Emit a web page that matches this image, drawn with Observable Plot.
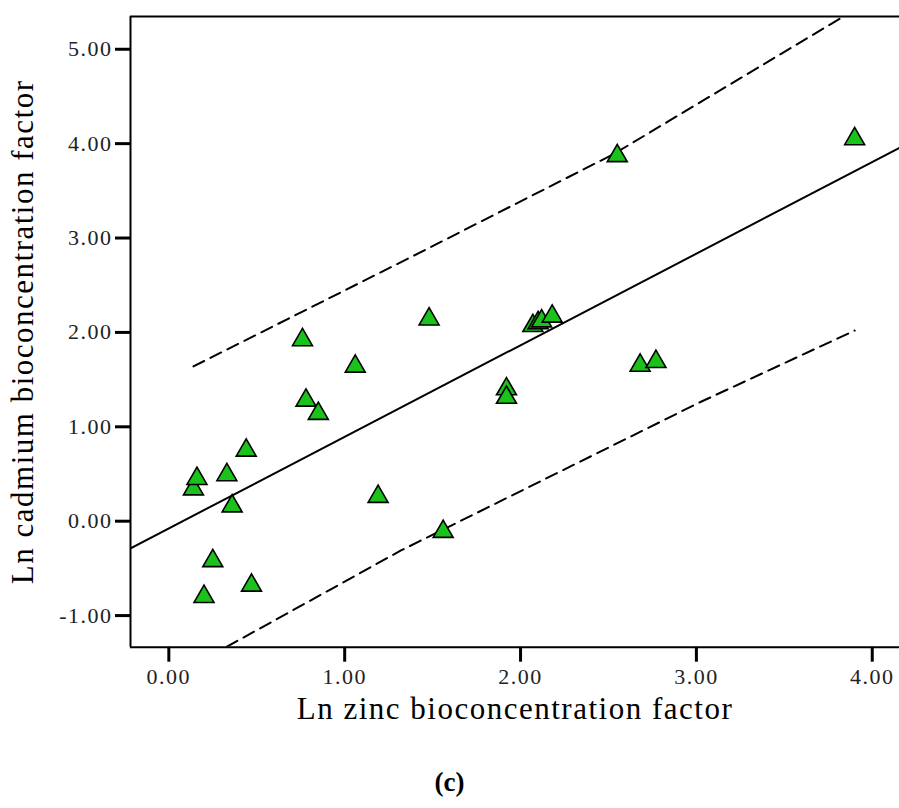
<!DOCTYPE html>
<html>
<head>
<meta charset="utf-8">
<script src="https://cdn.jsdelivr.net/npm/d3@7"></script>
<script src="https://cdn.jsdelivr.net/npm/@observablehq/plot@0.6"></script>
<style>
  html, body { margin: 0; padding: 0; background: #fff; }
  #chart { width: 899px; }
  g[aria-label="axis-title"] text { letter-spacing: 2.5px; }
  #caption { width: 899px; height: 44px; line-height: 44px; text-align: center;
    font-family: "Liberation Serif", "Times New Roman", serif; font-weight: bold;
    font-size: 27px; color: #000; box-sizing: border-box; padding-left: 0px; }
</style>
</head>
<body>
<div id="chart"></div>
<div id="caption">(c)</div>
<script>
// Scatter points (Ln zinc BCF vs Ln cadmium BCF)
const zincLn = [0.14, 0.16, 0.20, 0.25, 0.33, 0.36, 0.44, 0.47, 0.76, 0.78, 0.85, 1.06, 1.19, 1.48, 1.56, 1.92, 1.92, 2.07, 2.10, 2.12, 2.18, 2.55, 2.68, 2.77, 3.90];
const cadmiumLn = [0.34, 0.45, -0.80, -0.42, 0.49, 0.16, 0.75, -0.68, 1.92, 1.28, 1.14, 1.64, 0.26, 2.14, -0.11, 1.40, 1.31, 2.07, 2.10, 2.12, 2.17, 3.87, 1.65, 1.69, 4.05];

// Regression line and prediction-interval bounds
const fitX = [-0.22, 4.16];
const fitY = [-0.29, 3.96];
const upperX = [0.14, 1.39, 2.53, 3.83];
const upperY = [1.64, 2.81, 3.89, 5.34];
const lowerX = [0.33, 1.32, 3.02, 3.90];
const lowerY = [-1.33, -0.31, 1.26, 2.02];

// Axes
const xDomain = [-0.218, 4.155];
const yDomain = [-1.335, 5.347];
const xTicks = [0, 1, 2, 3, 4];
const yTicks = [-1, 0, 1, 2, 3, 4, 5];
const xTitle = "Ln zinc bioconcentration factor";
const yTitle = "Ln cadmium bioconcentration factor";

const points = zincLn.map((x, i) => ({x, y: cadmiumLn[i]}));
const fit = fitX.map((x, i) => ({x, y: fitY[i]}));
const upper = upperX.map((x, i) => ({x, y: upperY[i]}));
const lower = lowerX.map((x, i) => ({x, y: lowerY[i]}));
const fmt = d => d.toFixed(2);

const chart = Plot.plot({
  width: 899,
  height: 760,
  marginLeft: 130,
  marginRight: 0,
  marginTop: 16,
  marginBottom: 113.3,
  x: {domain: xDomain},
  y: {domain: yDomain},
  style: {
    fontFamily: "'Liberation Serif', 'Times New Roman', serif",
    fontSize: "22px",
    letterSpacing: "1.5px",
    background: "#fff",
    color: "#000"
  },
  marks: [
    Plot.ruleY([yDomain[1]], {stroke: "#000", strokeWidth: 2}),
    Plot.ruleY([yDomain[0]], {stroke: "#000", strokeWidth: 2}),
    Plot.ruleX([xDomain[0]], {stroke: "#000", strokeWidth: 2}),
    Plot.line(fit, {x: "x", y: "y", stroke: "#000", strokeWidth: 2, clip: true}),
    Plot.line(upper, {x: "x", y: "y", stroke: "#000", strokeWidth: 2, strokeDasharray: "12,7", clip: true}),
    Plot.line(lower, {x: "x", y: "y", stroke: "#000", strokeWidth: 2, strokeDasharray: "12,7", clip: true}),
    Plot.dot(points, {x: "x", y: "y", symbol: "triangle", r: 7.4, fill: "#1bc21b", stroke: "#000", strokeWidth: 1.6}),
    Plot.axisX({ticks: xTicks, tickFormat: fmt, tickSize: 15, tickPadding: 6, strokeWidth: 3, fontSize: 22, fill: "#222", label: null}),
    Plot.axisY({ticks: yTicks, tickFormat: fmt, tickSize: 15, tickPadding: 3, strokeWidth: 3, fontSize: 22, fill: "#222", label: null}),
    Plot.text([xTitle], {frameAnchor: "bottom", dy: 62, fontSize: 31, textAnchor: "middle", lineAnchor: "middle", fill: "#000", ariaLabel: "axis-title"}),
    Plot.text([yTitle], {frameAnchor: "left", dx: -107, rotate: -90, fontSize: 31, textAnchor: "middle", lineAnchor: "middle", fill: "#000", ariaLabel: "axis-title"})
  ]
});
document.getElementById("chart").appendChild(chart);
</script>
</body>
</html>
